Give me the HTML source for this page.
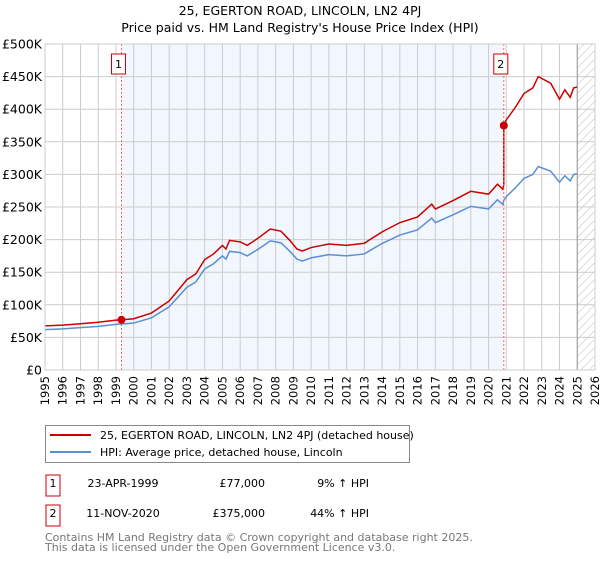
<!DOCTYPE html>
<html><head><meta charset="utf-8"><style>
body{margin:0;background:#fff;font-family:"Liberation Sans","DejaVu Sans",sans-serif;}
svg text{font-family:"DejaVu Sans","Liberation Sans",sans-serif;}
</style></head><body>
<svg id="chart" width="600" height="560" xmlns="http://www.w3.org/2000/svg">
<defs><pattern id="hatch" width="6" height="6" patternUnits="userSpaceOnUse" patternTransform="rotate(45)"><line x1="0" y1="0" x2="0" y2="6" stroke="#bbb" stroke-width="1"/></pattern></defs>
<text x="300" y="15" text-anchor="middle" font-size="12.5">25, EGERTON ROAD, LINCOLN, LN2 4PJ</text>
<text x="300" y="32" text-anchor="middle" font-size="12.5">Price paid vs. HM Land Registry's House Price Index (HPI)</text>
<g id="plot"></g>
<g>
<rect x="45.5" y="425.5" width="364" height="37" fill="#fff" stroke="#888"/>
<line x1="50" y1="435" x2="91" y2="435" stroke="#cc0000" stroke-width="2"/>
<text x="100" y="439" font-size="11">25, EGERTON ROAD, LINCOLN, LN2 4PJ (detached house)</text>
<line x1="50" y1="452" x2="91" y2="452" stroke="#5b8fd4" stroke-width="2"/>
<text x="100" y="456" font-size="11">HPI: Average price, detached house, Lincoln</text>
</g>
<g font-size="11">
<rect x="46" y="475" width="14" height="21" fill="#fff" stroke="#cc0000"/><text x="53" y="487" text-anchor="middle">1</text>
<text x="123" y="487" text-anchor="middle">23-APR-1999</text><text x="265" y="487" text-anchor="end">£77,000</text><text x="369" y="487" text-anchor="end">9% ↑ HPI</text>
<rect x="46" y="505" width="14" height="21" fill="#fff" stroke="#cc0000"/><text x="53" y="517" text-anchor="middle">2</text>
<text x="123" y="517" text-anchor="middle">11-NOV-2020</text><text x="265" y="517" text-anchor="end">£375,000</text><text x="369" y="517" text-anchor="end">44% ↑ HPI</text>
</g>
<text x="45" y="541" font-size="11" fill="#777">Contains HM Land Registry data © Crown copyright and database right 2025.</text>
<text x="45" y="551" font-size="11" fill="#777">This data is licensed under the Open Government Licence v3.0.</text>
</svg>
<script>
const hpiYears=[1995,1996,1997,1998,1999,1999.3,2000,2001,2002,2003,2003.5,2004,2004.5,2005,2005.2,2005.4,2006,2006.4,2007,2007.7,2008.3,2008.8,2009.2,2009.5,2010,2011,2012,2013,2013.3,2014,2015,2016,2016.8,2017,2018,2019,2020,2020.5,2020.8,2020.86,2021,2021.5,2022,2022.5,2022.8,2023.5,2024,2024.3,2024.6,2024.8,2025];
const hpiValues=[62,63,65,67,70,70.5,72,80,97,127,135,155,163,175,170,182,180,175,185,198,195,182,170,167,172,177,175,178,183,194,207,215,233,226,238,251,247,261,254,260,266,279,294,300,312,305,288,298,290,300,301];
const saleYears=[1999.31,2020.86];
const salePrices=[77,375];
const yTicks=[0,50,100,150,200,250,300,350,400,450,500];
const yTickLabels=["£0","£50K","£100K","£150K","£200K","£250K","£300K","£350K","£400K","£450K","£500K"];
const xTicks=[1995,1996,1997,1998,1999,2000,2001,2002,2003,2004,2005,2006,2007,2008,2009,2010,2011,2012,2013,2014,2015,2016,2017,2018,2019,2020,2021,2022,2023,2024,2025,2026];

const NS="http://www.w3.org/2000/svg";
const L=45,R=595,T=44,B=370;
const x=v=>L+(v-1995)/(2026-1995)*(R-L);
const y=v=>B-v/500*(B-T);
const g=document.getElementById('plot');
function mk(t,a){const e=document.createElementNS(NS,t);for(const k in a)e.setAttribute(k,a[k]);g.appendChild(e);return e;}
function hpiAt(t){for(let i=1;i<hpiYears.length;i++){if(t<=hpiYears[i]){const f=(t-hpiYears[i-1])/(hpiYears[i]-hpiYears[i-1]);return hpiValues[i-1]+f*(hpiValues[i]-hpiValues[i-1]);}}return hpiValues[hpiValues.length-1];}
let e=mk('rect',{x:x(saleYears[0]),y:T,width:x(saleYears[1])-x(saleYears[0]),height:B-T,fill:'#f2f6fd'});


e=mk('rect',{x:x(2025),y:T,width:R-x(2025),height:B-T,fill:'url(#hatch)'});


xTicks.forEach(v=>{const l=mk('line',{x1:x(v),x2:x(v),y1:T,y2:B,stroke:'#ccc'});


const t=mk('text',{x:0,y:0,'font-size':11.5,'text-anchor':'end',transform:`translate(${x(v)+4},${B+6}) rotate(-90)`});
t.textContent=v;

});
yTicks.forEach((v,i)=>{const l=mk('line',{x1:L,x2:R,y1:y(v),y2:y(v),stroke:'#ccc'});


const t=mk('text',{x:L-3,y:y(v)+4.5,'font-size':12.5,'text-anchor':'end'});
t.textContent=yTickLabels[i];

});
e=mk('line',{x1:x(2025),x2:x(2025),y1:T,y2:B,stroke:'#999'});


let pts=hpiYears.filter(t=>t<=2025.01).map((t,i)=>x(t)+','+y(hpiValues[i])).join(' ');
e=mk('polyline',{points:pts,fill:'none',stroke:'#5b8fd4','stroke-width':1.5});


const f1=salePrices[0]/hpiAt(saleYears[0]),f2=salePrices[1]/hpiAt(saleYears[1]);
let rp=[];
hpiYears.forEach((t,i)=>{if(t<saleYears[1])rp.push(x(t)+','+y(hpiValues[i]*f1));});
rp.push(x(saleYears[1])+','+y(hpiAt(saleYears[1])*f1));
rp.push(x(saleYears[1])+','+y(salePrices[1]));
hpiYears.forEach((t,i)=>{if(t>saleYears[1])rp.push(x(t)+','+y(hpiValues[i]*f2));});
e=mk('polyline',{points:rp.join(' '),fill:'none',stroke:'#cc0000','stroke-width':1.5});


saleYears.forEach((s,i)=>{
const l=mk('line',{x1:x(s),x2:x(s),y1:T,y2:B,stroke:'#e66','stroke-dasharray':'2,2'});


const c=mk('circle',{cx:x(s),cy:y(salePrices[i]),r:4,fill:'#cc0000'});


const bx=mk('rect',{x:x(s)-10,y:54,width:14,height:20,fill:'#fff',stroke:'#cc0000'});


const t=mk('text',{x:x(s)-3,y:68,'font-size':11,'text-anchor':'middle'});
t.textContent=String(i+1);

});
e=mk('rect',{x:L,y:T,width:R-L,height:B-T,fill:'none',stroke:'#ccc'});


</script>
</body></html>
